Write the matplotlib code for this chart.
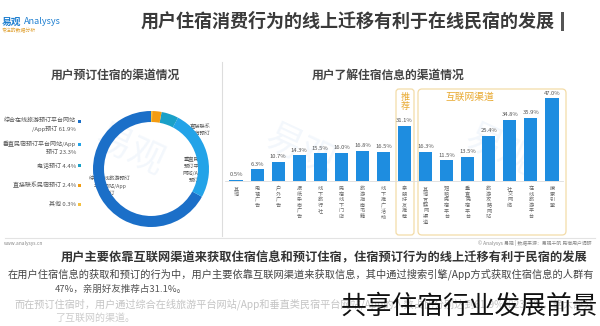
import matplotlib
matplotlib.use("Agg")
import matplotlib.pyplot as plt
from matplotlib.patches import FancyBboxPatch, Rectangle

plt.rcParams['font.family'] = ['Noto Sans CJK SC', 'DejaVu Sans']

# 用户了解住宿信息的渠道（从左到右）
info_labels = ['其他', '电视广告', '户外广告', '报纸杂志广告', '线下旅行社',
               '民宿线下门店', '旅游指南书籍', '线下推广活动', '亲朋好友推荐',
               '其他互联网渠道', '短租民宿平台', '垂直民宿平台',
               '旅游攻略网站', '社交网络', '在线旅游平台', '搜索引擎']
info_values = [0.5, 6.3, 10.7, 14.3, 15.5, 16.0, 16.8, 16.5, 31.1,
               16.3, 11.5, 13.5, 25.4, 34.8, 35.9, 47.0]

# 用户预订住宿的渠道
book_labels = ['综合在线旅游预订平台网站/App预订', '垂直民宿预订平台网站/App预订',
               '电话预订', '直接联系民宿预订', '其他']
book_values = [61.9, 23.3, 4.4, 2.4, 0.3]
book_colors = ['#1b6fc8', '#23a3e8', '#1aa0c8', '#f39c12', '#f5c040']

title = '用户住宿消费行为的线上迁移有利于在线民宿的发展'
headline = '用户主要依靠互联网渠道来获取住宿信息和预订住宿，住宿预订行为的线上迁移有利于民宿的发展'
para = ['在用户住宿信息的获取和预订的行为中，用户主要依靠互联网渠道来获取信息，其中通过搜索引擎/App方式获取住宿信息的人群有',
        '47%，亲朋好友推荐占31.1%。',
        '而在预订住宿时，用户通过综合在线旅游平台网站/App和垂直类民宿平台网站/App的人数占比分别达到61.9%和23.3%，绝大部分',
        '了互联网的渠道。']

fig = plt.figure(figsize=(6, 3.26), dpi=100)
fig.patch.set_facecolor('white')

# pixel-space canvas for text, frames and lines
bg = fig.add_axes([0, 0, 1, 1])
bg.set_xlim(0, 600)
bg.set_ylim(326, 0)
bg.axis('off')

# faint watermark
for wx, wy in [(130, 150), (300, 150), (500, 150)]:
    bg.text(wx, wy, '易观', fontsize=26, color='#2a7fd0', alpha=0.06, rotation=-25,
            ha='center', va='center')

# logo
bg.text(2, 22, '易观', color='#1e7fd0', fontsize=7, fontweight='bold', va='center')
bg.text(24, 21, 'Analysys', color='#1e7fd0', fontsize=6.5, style='italic', va='center')
bg.text(2, 31, '专注的数据分析', color='#e0a030', fontsize=3.5, va='center')

# page title with accent bar
bg.text(555, 21, title, fontsize=13, fontweight='bold', color='#3a3a3a',
        ha='right', va='center')
bg.add_patch(Rectangle((561, 12), 2.5, 19, color='#555555', lw=0))

# panel titles and divider
bg.text(115, 75, '用户预订住宿的渠道情况', fontsize=8.5, fontweight='bold',
        color='#444444', ha='center', va='center')
bg.text(388, 75, '用户了解住宿信息的渠道情况', fontsize=8.5, fontweight='bold',
        color='#444444', ha='center', va='center')
bg.plot([222, 222], [62, 236], color='#dddddd', lw=0.8)

# grouping frames on the bar chart
bg.add_patch(FancyBboxPatch((396, 89), 18, 146, boxstyle='round,pad=0,rounding_size=3',
                            fc='none', ec='#f3dca8', lw=0.9))
bg.add_patch(FancyBboxPatch((418, 89), 148, 146, boxstyle='round,pad=0,rounding_size=4',
                            fc='none', ec='#f3dca8', lw=0.9))
bg.text(405, 93, '推\n荐', fontsize=6.5, color='#e8a930', ha='center', va='top',
        linespacing=1.0)
bg.text(470, 97, '互联网渠道', fontsize=7, color='#e8a930', ha='center', va='center')

# legend of booking channels
leg_y = [125, 148, 165, 185, 204]
leg_txt = ['综合在线旅游预订平台网站\n/App预订 61.9%', '垂直民宿预订平台网站/App\n预订 23.3%',
           '电话预订 4.4%', '直接联系民宿预订 2.4%', '其他 0.3%']
for y, t, c in zip(leg_y, leg_txt, book_colors):
    bg.text(76, y, t, fontsize=4.3, color='#555555', ha='right', va='center',
            linespacing=1.6)
    bg.add_patch(Rectangle((78, y - (5 if '\n' in t else 1.5)), 3, 3, color=c, lw=0))

# footer
bg.plot([5, 595], [238, 238], color='#e3e3e3', lw=0.8)
bg.text(4, 243, 'www.analysys.cn', fontsize=3.5, color='#888888', va='center')
bg.text(592, 243, '© Analysys 易观 | 数据来源：易观千帆 民宿用户调研', fontsize=3.5,
        color='#888888', ha='right', va='center')
bg.text(588, 258, headline, fontsize=8.8, fontweight='bold', color='#333333',
        ha='right', va='center')
bg.text(594, 274, para[0], fontsize=7.35, color='#444444', ha='right', va='center')
bg.text(55, 289, para[1], fontsize=6.8, color='#555555', ha='left', va='center')
bg.text(594, 304, para[2], fontsize=7.3, color='#c4c4c4', ha='right', va='center')
bg.text(55, 318, para[3], fontsize=7.2, color='#cccccc', ha='left', va='center')

# donut chart of booking channels
W, H = 600, 326
cx, cy, r = 151, 169, 58
dax = fig.add_axes([(cx - r) / W, 1 - (cy + r) / H, 2 * r / W, 2 * r / H])
dax.pie(book_values, colors=book_colors, startangle=90, counterclock=True,
        wedgeprops=dict(width=0.19, edgecolor='none'))
dax.set_aspect('auto')
dax.set_xlim(-1, 1)
dax.set_ylim(-1, 1)
bg.text(190, 130, '直接联系\n民宿预订', fontsize=3.8, color='#555555', ha='left',
        va='center', linespacing=1.3)
bg.plot([173, 182], [118, 130], color='#999999', lw=0.4)
bg.text(194, 170, '垂直民宿\n预订平台\n网站/App\n预订', fontsize=3.8, color='#555555',
        ha='center', va='center', linespacing=1.5)
bg.text(110, 186, '综合在线旅游预订\n平台网站/App\n预订', fontsize=3.8, color='#555555',
        ha='center', va='center', linespacing=1.5)

# bar chart of information channels
x0, step = 236.0, (552.0 - 236.0) / 15
base, ppu = 180.5, (180.5 - 98.3) / 47.0
ymax = 55
bax = fig.add_axes([(x0 - step / 2) / W, 1 - base / H, 16 * step / W, ymax * ppu / H])
bax.patch.set_alpha(0)
xs = list(range(len(info_values)))
bax.bar(xs, info_values, width=0.62, color='#1e8de0')
bax.set_xlim(-0.5, 15.5)
bax.set_ylim(0, ymax)
for x, v in zip(xs, info_values):
    bax.text(x, v + 1.5, f'{v}%', fontsize=4.2, color='#555555', ha='center', va='bottom')
for s in ['top', 'right', 'left']:
    bax.spines[s].set_visible(False)
bax.spines['bottom'].set_color('#dddddd')
bax.spines['bottom'].set_linewidth(0.6)
bax.set_yticks([])
bax.set_xticks(xs)
bax.set_xticklabels(['\n'.join(l) for l in info_labels], fontsize=3.7, color='#666666',
                    linespacing=1.15, va='top')
bax.tick_params(axis='x', length=0, pad=4)

# overlay caption on top of the faded paragraph
fig.text(598 / W, 1 - 307 / H, '共享住宿行业发展前景', fontsize=18.5, color='#111111',
         ha='right', va='center')

fig.savefig('out.png', dpi=100)
